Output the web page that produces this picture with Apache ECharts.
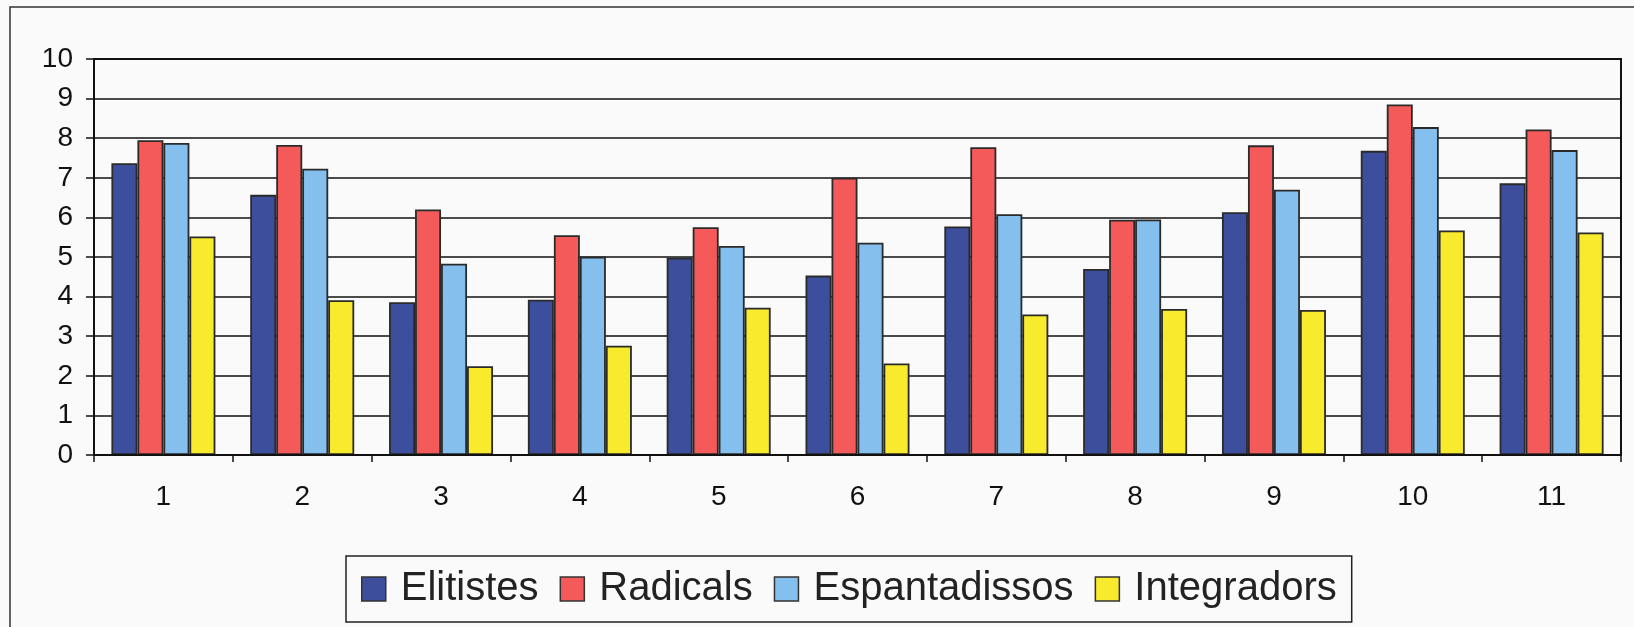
<!DOCTYPE html>
<html>
<head>
<meta charset="utf-8">
<script src="https://cdn.jsdelivr.net/npm/echarts@6/dist/echarts.min.js"></script>
<style>
  html, body { margin: 0; padding: 0; background: #fafafa; }
  #chart { width: 1634px; height: 627px; }
</style>
</head>
<body>
<div id="chart"></div>
<script>
const categories = ['1', '2', '3', '4', '5', '6', '7', '8', '9', '10', '11'];
const seriesNames = ['Elitistes', 'Radicals', 'Espantadissos', 'Integradors'];
const elitistes     = [7.37, 6.57, 3.86, 3.92, 4.98, 4.53, 5.77, 4.70, 6.13, 7.68, 6.86];
const radicals      = [7.95, 7.83, 6.20, 5.55, 5.75, 7.00, 7.77, 5.94, 7.82, 8.85, 8.22];
const espantadissos = [7.88, 7.23, 4.83, 5.01, 5.28, 5.36, 6.08, 5.95, 6.70, 8.28, 7.70];
const integradors   = [5.52, 3.91, 2.24, 2.76, 3.72, 2.31, 3.55, 3.69, 3.66, 5.67, 5.62];
const colors = ['#3d4f9c', '#f45a5a', '#84bfee', '#f8ea2c'];

const chart = echarts.init(document.getElementById('chart'));
const values = [elitistes, radicals, espantadissos, integradors];

const option = {
  backgroundColor: '#fafafa',
  animation: false,
  textStyle: { fontFamily: 'Liberation Sans, Arial, sans-serif' },
  grid: { left: 94, right: 13, top: 59, bottom: 172 },
  legend: {
    bottom: 5,
    left: 346,
    icon: 'rect',
    itemWidth: 24,
    itemHeight: 24,
    itemGap: 21,
    padding: [13, 15, 13, 15],
    borderColor: '#222',
    borderWidth: 1.5,
    borderRadius: 0,
    itemStyle: { borderColor: '#333', borderWidth: 1.5 },
    textStyle: { fontSize: 40, color: '#222', padding: [0, 0, 0, 10] },
    data: seriesNames
  },
  xAxis: {
    type: 'category',
    data: categories,
    axisLine: { lineStyle: { color: '#111', width: 2 } },
    axisTick: { show: true, interval: 0, length: 7, lineStyle: { color: '#111', width: 1.5 } },
    axisLabel: { fontSize: 28, color: '#111', margin: 28 }
  },
  yAxis: {
    type: 'value',
    min: 0,
    max: 10,
    interval: 1,
    axisLine: { show: true, lineStyle: { color: '#111', width: 2 } },
    axisTick: { show: true, length: 8, lineStyle: { color: '#111', width: 1.5 } },
    axisLabel: { fontSize: 28, color: '#111', margin: 21 },
    splitLine: { lineStyle: { color: '#111', width: 1.5 } }
  },
  graphic: [
    {
      type: 'rect',
      shape: { x: 10, y: 7, width: 1640, height: 640 },
      style: { fill: 'none', stroke: '#333', lineWidth: 1.5 },
      silent: true
    },
    {
      type: 'rect',
      shape: { x: 94, y: 59, width: 1527, height: 396 },
      style: { fill: 'none', stroke: '#111', lineWidth: 2 },
      silent: true,
      z: 10
    }
  ],
  series: seriesNames.map((name, i) => ({
    name: name,
    type: 'bar',
    data: values[i],
    barWidth: 26,
    barGap: '0%',
    itemStyle: { color: colors[i], borderColor: '#2a2a2a', borderWidth: 1.8 }
  }))
};

chart.setOption(option);
</script>
</body>
</html>
